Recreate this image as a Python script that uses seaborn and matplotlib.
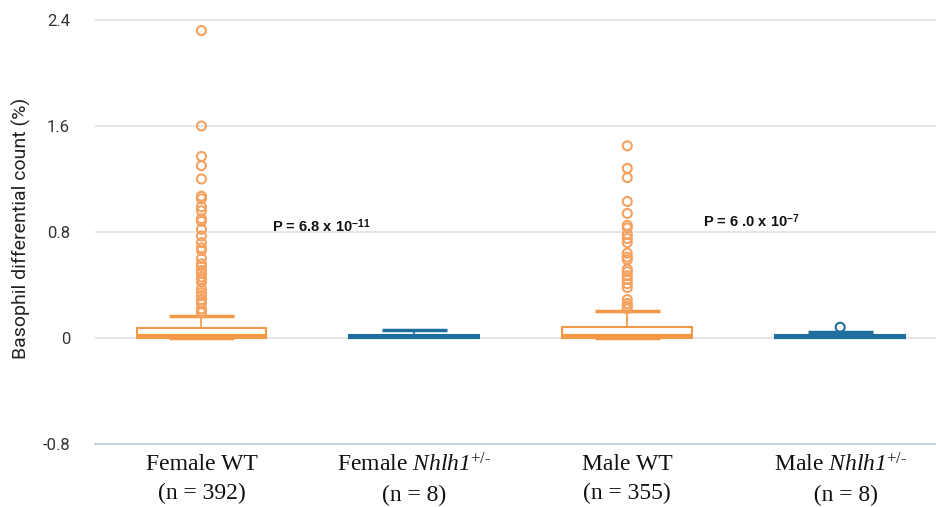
import matplotlib
matplotlib.use("Agg")
import matplotlib.pyplot as plt
import seaborn as sns
import pandas as pd

# summary values (basophil %)
groups = ["Female WT", "Female Nhlh1", "Male WT", "Male Nhlh1"]
tick_labels = [
    "Female WT\n(n = 392)",
    "Female $\\mathsf{Nhlh1}^{\\text{+/-}}$\n(n = 8)",
    "Male WT\n(n = 355)",
    "Male $\\mathsf{Nhlh1}^{\\text{+/-}}$\n  (n = 8)",
]
q1 = [0.0, 0.0, 0.0, 0.0]
med = [0.015, 0.01, 0.015, 0.01]
q3 = [0.073, 0.026, 0.085, 0.026]
wlo = [0.0, 0.0, 0.0, 0.0]
whi = [0.168, 0.058, 0.204, 0.042]

fliers_female_wt = [2.32, 1.60, 1.37, 1.30, 1.20, 1.07, 1.05, 0.99, 0.96, 0.90, 0.88,
                    0.82, 0.77, 0.72, 0.68, 0.66, 0.60, 0.56, 0.54, 0.51, 0.49, 0.46,
                    0.44, 0.42, 0.37, 0.34, 0.32, 0.29, 0.26, 0.22, 0.20, 0.19]
fliers_male_wt = [1.45, 1.28, 1.21, 1.03, 0.94, 0.85, 0.83, 0.78, 0.75, 0.72, 0.64,
                  0.61, 0.59, 0.52, 0.50, 0.47, 0.44, 0.41, 0.38, 0.29, 0.26, 0.24, 0.22]
fliers_male_nhlh1 = [0.081]

p_labels = ["P = 6.8 x 10$^{\\mathbf{-11}}$", "P = 6 .0 x 10$^{\\mathbf{-7}}$"]

orange = "#F39846"
orange_light = "#F5A15F"
blue = "#1F6F9E"
lavender = "#C9D0E6"

sns.set_theme(style="white")
plt.rcParams["font.family"] = ["Roboto", "DejaVu Sans"]
plt.rcParams["mathtext.fontset"] = "custom"
plt.rcParams["mathtext.rm"] = "Liberation Serif"
plt.rcParams["mathtext.it"] = "Liberation Serif:italic"
plt.rcParams["mathtext.sf"] = "Liberation Serif:italic"
plt.rcParams["mathtext.bf"] = "Liberation Sans:bold"

fig = plt.figure(figsize=(9.36, 5.07), dpi=100)
ax = fig.add_axes([95 / 936, (507 - 444) / 507, 1 - 95 / 936, (444 - 12) / 507])

colors = [orange, blue, orange, blue]
for i in range(4):
    st = {"q1": q1[i], "med": med[i], "q3": q3[i], "whislo": wlo[i], "whishi": whi[i],
          "fliers": []}
    c = colors[i]
    filled = c == blue
    res = ax.bxp([st], positions=[i], widths=0.61, patch_artist=True, showfliers=False,
                 boxprops=dict(facecolor=c if filled else "white", edgecolor=c, linewidth=1.5),
                 medianprops=dict(color=c, linewidth=3, solid_capstyle="butt"),
                 whiskerprops=dict(color=c, linewidth=1.2),
                 capprops=dict(color=c, linewidth=2.5, solid_capstyle="butt"),
                 capwidths=0.305)
    if filled:
        res["caps"][0].set_visible(False)

fl = pd.DataFrame({
    "x": [0] * len(fliers_female_wt) + [2] * len(fliers_male_wt) + [3] * len(fliers_male_nhlh1),
    "y": fliers_female_wt + fliers_male_wt + fliers_male_nhlh1,
    "c": ["o"] * (len(fliers_female_wt) + len(fliers_male_wt)) + ["b"] * len(fliers_male_nhlh1),
})
sns.scatterplot(data=fl, x="x", y="y", hue="c", palette={"o": orange_light, "b": blue},
                s=42, linewidth=1.5, legend=False, ax=ax, zorder=4)
pts = ax.collections[-1]
pts.set_facecolor("none")
pts.set_edgecolor([orange_light if c == "o" else blue for c in fl["c"]])

ax.set_xlim(-0.5, 3.45)
ax.set_ylim(-0.8, 2.46)
ax.set_yticks([-0.8, 0, 0.8, 1.6, 2.4])
ax.set_yticklabels(["-0.8", "0", "0.8", "1.6", "2.4"], fontsize=12, color="#333333")
ax.yaxis.grid(True, color="#E2E2E2", linewidth=1.2)
ax.set_axisbelow(True)
for s in ["top", "right", "left"]:
    ax.spines[s].set_visible(False)
ax.spines["bottom"].set_color(lavender)
ax.spines["bottom"].set_linewidth(1.5)

ax.set_xticks(range(4))
ax.set_xticklabels(tick_labels, family="Liberation Serif", fontsize=17, color="#111111",
                   linespacing=1.5)
ax.set_xticks([-0.5, 0.5, 1.5, 2.5], minor=True)
ax.tick_params(axis="x", which="major", length=0, pad=7)
ax.tick_params(axis="x", which="minor", length=16, width=1.5, color=lavender, direction="out")
ax.tick_params(axis="y", length=0, pad=18)
ax.set_xlabel("")
ax.set_ylabel("Basophil differential count (%)", fontsize=14, color="#222222", labelpad=8)

ax.text(0.33, 0.802, p_labels[0], fontsize=10.5, fontweight="bold", color="#111111",
        va="baseline", ha="left", family="Liberation Sans")
ax.text(2.355, 0.84, p_labels[1], fontsize=10.5, fontweight="bold", color="#111111",
        va="baseline", ha="left", family="Liberation Sans")

fig.savefig("out.png", dpi=100)
